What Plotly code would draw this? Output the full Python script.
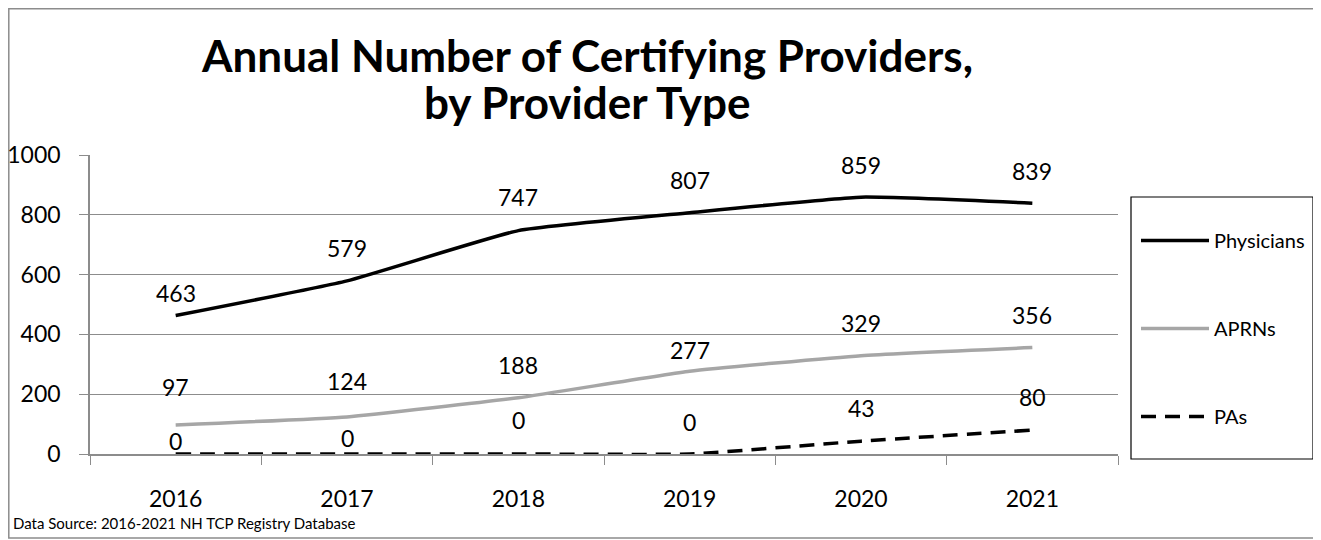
import plotly.graph_objects as go

years = ["2016", "2017", "2018", "2019", "2020", "2021"]
physicians = [463, 579, 747, 807, 859, 839]
aprns = [97, 124, 188, 277, 329, 356]
pas = [0, 0, 0, 0, 43, 80]
series_names = ["Physicians", "APRNs", "PAs"]
y_ticks = [0, 200, 400, 600, 800, 1000]

# label offsets above the point (pixels), style only
phys_shift = [23, 33, 34, 33, 32, 32]
aprn_shift = [38, 36, 33, 21, 33, 33]
pa_shift = [13, 16, 34, 32, 33, 33]

FONT = "Lato, 'Open Sans', sans-serif"
OFF = 8  # page body margin
W, H = 1321 - OFF, 540 - OFF
L, R, T, B = 90 - OFF, 1118 - OFF, 155 - OFF, 454 - OFF

fig = go.Figure()
styles = [
    dict(color="black", width=3.5, dash="solid"),
    dict(color="#a6a6a6", width=3.5, dash="solid"),
    dict(color="black", width=3.5, dash="15px,9px"),
]
for name, vals, st in zip(series_names, [physicians, aprns, pas], styles):
    fig.add_trace(go.Scatter(
        x=years, y=vals, name=name, mode="lines",
        line=dict(color=st["color"], width=st["width"], dash=st["dash"],
                  shape="spline", smoothing=0.4),
        legendgroup=name,
    ))

for vals, shifts in [(physicians, phys_shift), (aprns, aprn_shift), (pas, pa_shift)]:
    for i, (v, s) in enumerate(zip(vals, shifts)):
        fig.add_annotation(x=i, y=v, xref="x", yref="y", text=str(v), showarrow=False,
                           yshift=s, font=dict(family=FONT, size=23, color="black"))

def px_x(p):
    return (p - OFF - L) / (R - L)

def px_y(p):
    return (B - (p - OFF)) / (B - T)

# outer chart border
fig.add_shape(type="rect", xref="paper", yref="paper",
              x0=px_x(8.8), x1=px_x(1318), y0=px_y(538), y1=px_y(8.8),
              line=dict(color="#8c8c8c", width=1.5), layer="below")
# legend box
fig.add_shape(type="rect", xref="paper", yref="paper",
              x0=px_x(1131), x1=px_x(1313), y0=px_y(459), y1=px_y(197),
              line=dict(color="black", width=1.2))

fig.add_annotation(xref="paper", yref="paper", x=px_x(587), y=px_y(55),
                   text="<b>Annual Number of Certifying Providers,</b>",
                   showarrow=False, xanchor="center", yanchor="middle",
                   font=dict(family=FONT, size=44, color="black"))
fig.add_annotation(xref="paper", yref="paper", x=px_x(587), y=px_y(102),
                   text="<b>by Provider Type</b>",
                   showarrow=False, xanchor="center", yanchor="middle",
                   font=dict(family=FONT, size=44, color="black"))
fig.add_annotation(xref="paper", yref="paper", x=px_x(11), y=px_y(523),
                   text="Data Source: 2016-2021 NH TCP Registry Database",
                   showarrow=False, xanchor="left", yanchor="middle",
                   font=dict(family=FONT, size=15, color="black"))

fig.update_layout(
    width=W, height=H,
    margin=dict(l=L, r=W - R, t=T, b=H - B, pad=0, autoexpand=False),
    paper_bgcolor="white", plot_bgcolor="white",
    font=dict(family=FONT, size=23, color="black"),
    showlegend=True,
    legend=dict(x=px_x(1136), y=px_y(221), xanchor="left", yanchor="top",
                font=dict(family=FONT, size=20, color="black"),
                tracegroupgap=59, bgcolor="rgba(0,0,0,0)", borderwidth=0,
                itemwidth=68),
)
fig.update_xaxes(type="category", tickson="boundaries", ticks="outside",
                 ticklen=9, tickcolor="#8c8c8c", showline=True, linecolor="#8c8c8c",
                 linewidth=1.5, showgrid=False, ticklabelstandoff=24, automargin=False,
                 tickfont=dict(family=FONT, size=23), range=[-0.5, 5.5])
fig.update_yaxes(range=[0, 1000], tickvals=y_ticks, ticks="outside", ticklen=9,
                 tickcolor="#8c8c8c", showline=True, linecolor="#8c8c8c", linewidth=1.5,
                 showgrid=True, gridcolor="#8c8c8c", gridwidth=1, zeroline=False,
                 ticklabelstandoff=14, automargin=False, tickfont=dict(family=FONT, size=23))

fig.write_html("out.html")
